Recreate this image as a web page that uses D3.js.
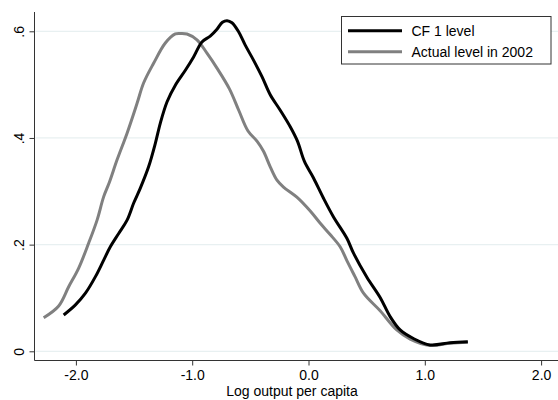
<!DOCTYPE html>
<html><head><meta charset="utf-8">
<script src="https://cdn.jsdelivr.net/npm/d3@7"></script>
<style>html,body{margin:0;padding:0;background:#fff;}svg{display:block;}</style>
</head><body>
<script>
const seriesNames = ["CF 1 level", "Actual level in 2002"];
const xTicks = [-2, -1, 0, 1, 2];
const xTickLabels = ["-2.0", "-1.0", "0.0", "1.0", "2.0"];
const yTicks = [0, 0.2, 0.4, 0.6];
const yTickLabels = ["0", ".2", ".4", ".6"];
const xTitle = "Log output per capita";

const cfX = [-2.105,-2.004,-1.918,-1.832,-1.761,-1.704,-1.632,-1.560,-1.503,-1.446,-1.375,-1.317,-1.274,-1.216,-1.145,-1.059,-0.988,-0.916,-0.845,-0.787,-0.740,-0.700,-0.658,-0.601,-0.544,-0.473,-0.400,-0.329,-0.243,-0.157,-0.095,-0.035,0.043,0.129,0.215,0.330,0.387,0.502,0.616,0.702,0.788,0.902,1.046,1.217,1.370];
const cfY = [0.068,0.087,0.109,0.140,0.171,0.196,0.221,0.246,0.278,0.306,0.346,0.390,0.428,0.468,0.499,0.527,0.552,0.580,0.591,0.604,0.617,0.620,0.616,0.599,0.574,0.546,0.515,0.481,0.452,0.421,0.394,0.356,0.325,0.287,0.252,0.212,0.184,0.139,0.101,0.065,0.040,0.024,0.012,0.016,0.018];

const actX = [-2.277,-2.148,-2.062,-1.976,-1.890,-1.818,-1.761,-1.712,-1.646,-1.560,-1.474,-1.418,-1.332,-1.231,-1.145,-1.102,-1.045,-0.959,-0.873,-0.787,-0.680,-0.600,-0.520,-0.443,-0.387,-0.329,-0.271,-0.215,-0.100,0.015,0.101,0.186,0.272,0.330,0.400,0.473,0.616,0.759,0.874,1.046,1.217,1.370];
const actY = [0.063,0.085,0.121,0.156,0.203,0.246,0.290,0.317,0.359,0.409,0.465,0.503,0.540,0.578,0.595,0.596,0.595,0.584,0.559,0.531,0.492,0.452,0.413,0.394,0.375,0.346,0.321,0.308,0.289,0.263,0.240,0.219,0.196,0.170,0.140,0.109,0.076,0.040,0.023,0.011,0.015,0.017];

const W = 558, H = 400;
const svg = d3.select("body").append("svg").attr("width", W).attr("height", H)
  .style("font-family", "'Liberation Sans', Arial, Helvetica, sans-serif");

const x = d3.scaleLinear().domain([-2, 2]).range([75.9, 541.1]);
const y = d3.scaleLinear().domain([0, 0.6]).range([351.3, 31.3]);
const plotLeft = 34.5, plotBottom = 360.5, plotTop = 12, plotRight = W;

// gridlines
svg.append("g").selectAll("line").data(yTicks).join("line")
  .attr("x1", plotLeft + 1).attr("x2", plotRight)
  .attr("y1", d => y(d)).attr("y2", d => y(d))
  .attr("stroke", "#e8f0f1").attr("stroke-width", 1.2);

// y axis
const yAxis = d3.axisLeft(y).tickValues(yTicks).tickFormat((d, i) => yTickLabels[i]).tickSize(5);
const gy = svg.append("g").attr("transform", `translate(${plotLeft},0)`).call(yAxis);
gy.select(".domain").remove();
gy.append("line").attr("x1", 0).attr("x2", 0).attr("y1", plotTop).attr("y2", plotBottom).attr("stroke", "#333");
gy.selectAll(".tick line").attr("stroke", "#333");
gy.selectAll(".tick text")
  .attr("font-size", 14).attr("fill", "#000")
  .attr("text-anchor", "middle")
  .attr("transform", "rotate(-90)")
  .attr("x", 0).attr("y", -10.5).attr("dy", 0);

// x axis
const xAxis = d3.axisBottom(x).tickValues(xTicks).tickFormat((d, i) => xTickLabels[i]).tickSize(5).tickPadding(5);
const gx = svg.append("g").attr("transform", `translate(0,${plotBottom})`).call(xAxis);
gx.select(".domain").remove();
gx.append("line").attr("x1", plotLeft).attr("x2", plotRight).attr("y1", 0).attr("y2", 0).attr("stroke", "#333");
gx.selectAll(".tick line").attr("stroke", "#333");
gx.selectAll(".tick text").attr("font-size", 14).attr("fill", "#000");

svg.append("text").attr("x", 292).attr("y", 396).attr("text-anchor", "middle")
  .attr("font-size", 14).attr("fill", "#000").text(xTitle);

const line = d3.line().x(d => x(d[0])).y(d => y(d[1])).curve(d3.curveCatmullRom.alpha(0.5));
const actData = actX.map((v, i) => [v, actY[i]]);
const cfData = cfX.map((v, i) => [v, cfY[i]]);

svg.append("path").datum(actData).attr("d", line).attr("fill", "none")
  .attr("stroke", "#808080").attr("stroke-width", 3).attr("stroke-linejoin", "round");
svg.append("path").datum(cfData).attr("d", line).attr("fill", "none")
  .attr("stroke", "#000").attr("stroke-width", 3).attr("stroke-linejoin", "round");

// legend
const lg = svg.append("g");
lg.append("rect").attr("x", 341.5).attr("y", 16.5).attr("width", 209.5).attr("height", 47.5)
  .attr("fill", "#fff").attr("stroke", "#333").attr("stroke-width", 1);
const colors = ["#000", "#808080"];
const ly = [30.7, 51.7];
seriesNames.forEach((n, i) => {
  lg.append("line").attr("x1", 348).attr("x2", 402).attr("y1", ly[i]).attr("y2", ly[i])
    .attr("stroke", colors[i]).attr("stroke-width", 3);
  lg.append("text").attr("x", 411.5).attr("y", ly[i] + 5).attr("font-size", 14).attr("fill", "#000").text(n);
});
</script>
</body></html>
